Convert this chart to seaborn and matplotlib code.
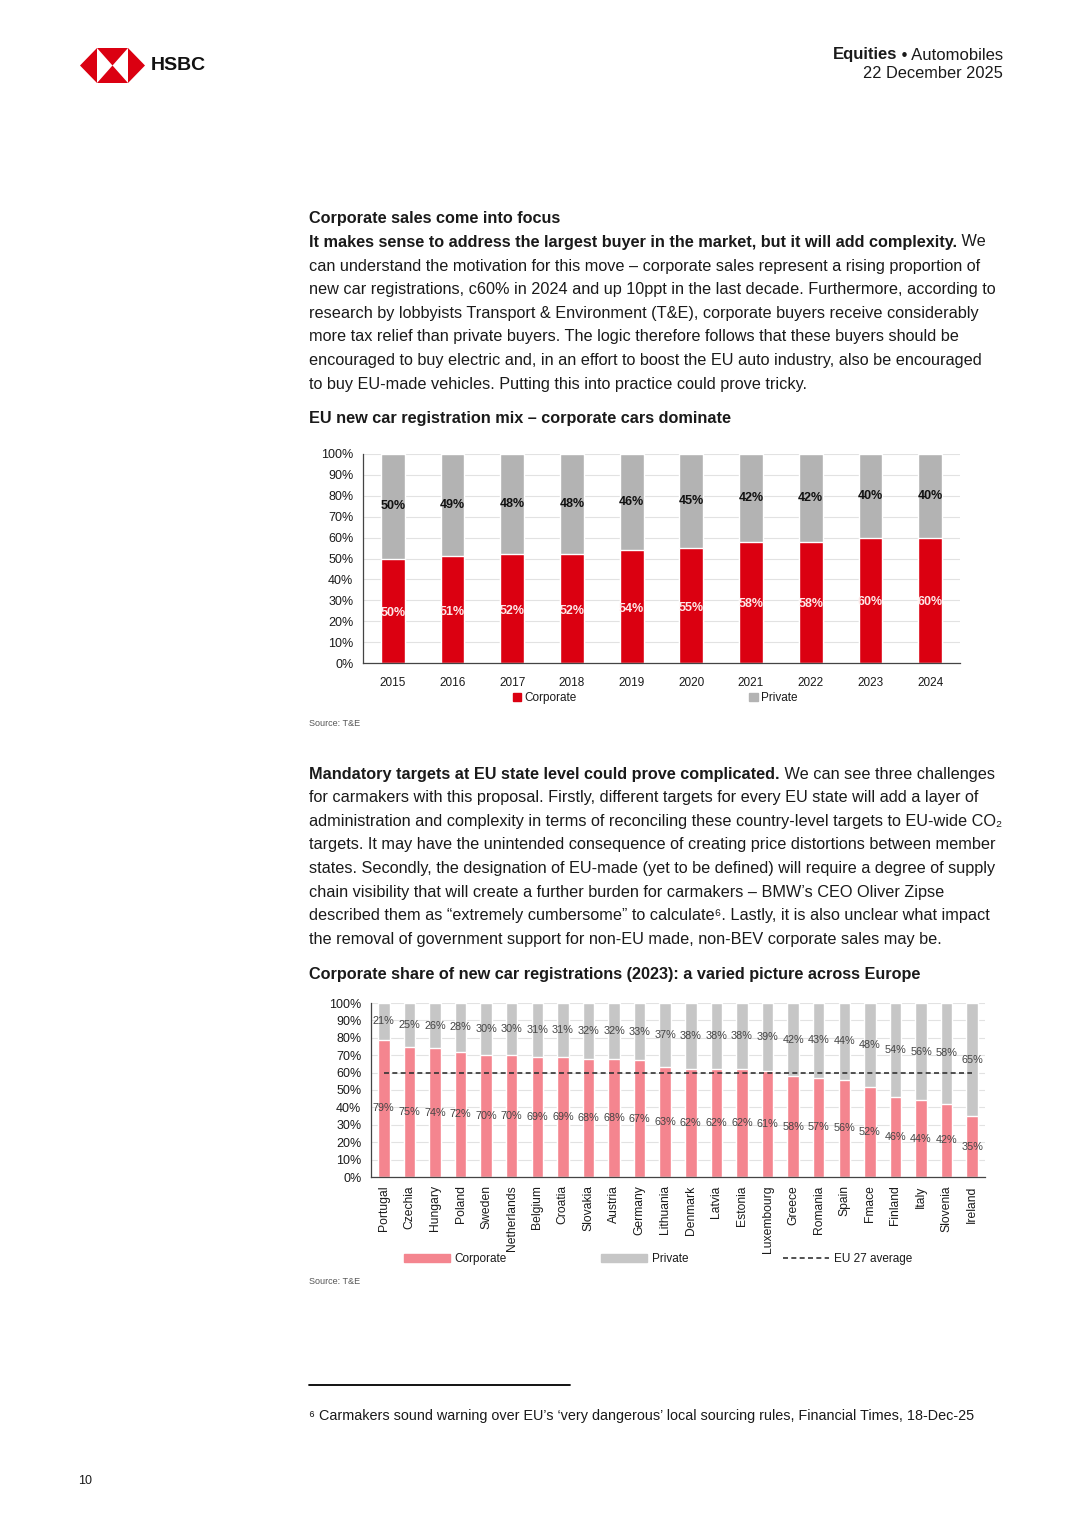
import numpy as np
import pandas as pd
import matplotlib
matplotlib.use('Agg')
import matplotlib.pyplot as plt
from matplotlib.patches import Patch, Polygon
from matplotlib.lines import Line2D
import seaborn as sns

sns.set_style('white')
plt.rcParams['font.family'] = ['Liberation Sans', 'DejaVu Sans']

# chart 1 data: EU new car registration mix
years = ['2015', '2016', '2017', '2018', '2019', '2020', '2021', '2022', '2023', '2024']
corp_mix = [50, 51, 52, 52, 54, 55, 58, 58, 60, 60]
priv_mix = [50, 49, 48, 48, 46, 45, 42, 42, 40, 40]

# chart 2 data: corporate share by country, 2023
countries = ['Portugal', 'Czechia', 'Hungary', 'Poland', 'Sweden', 'Netherlands', 'Belgium',
             'Croatia', 'Slovakia', 'Austria', 'Germany', 'Lithuania', 'Denmark', 'Latvia',
             'Estonia', 'Luxembourg', 'Greece', 'Romania', 'Spain', 'Fmace', 'Finland',
             'Italy', 'Slovenia', 'Ireland']
corp_share = [79, 75, 74, 72, 70, 70, 69, 69, 68, 68, 67, 63, 62, 62, 62, 61, 58, 57, 56, 52,
              46, 44, 42, 35]
priv_share = [21, 25, 26, 28, 30, 30, 31, 31, 32, 32, 33, 37, 38, 38, 38, 39, 42, 43, 44, 48,
              54, 56, 58, 65]
eu_avg = 60

RED = '#DB0011'
GREY1 = '#B3B3B3'
PINK = '#F4858F'
GREY2 = '#C6C6C6'
TXT = '#1a1a1a'

W, H = 1080, 1527
fig = plt.figure(figsize=(W / 100, H / 100), dpi=100)

# page layer in pixel coordinates
bg = fig.add_axes([0, 0, 1, 1])
bg.set_xlim(0, W)
bg.set_ylim(H, 0)
bg.axis('off')
rend = fig.canvas.get_renderer()


def txt(x, y, s, **kw):
    kw.setdefault('color', TXT)
    kw.setdefault('va', 'center')
    return bg.text(x, y, s, **kw)


def width(t):
    return t.get_window_extent(renderer=rend).width


# HSBC logo
for tri in [[(80, 65.5), (97, 48), (97, 83)], [(145, 65.5), (128, 48), (128, 83)],
            [(97, 48), (128, 48), (112.5, 65.5)], [(97, 83), (128, 83), (112.5, 65.5)]]:
    bg.add_patch(Polygon(tri, closed=True, color=RED, lw=0))
txt(151, 66, 'HSBC', fontsize=14, fontweight='bold', color='#111')

t = txt(1003, 55, ' \u2022 Automobiles', fontsize=12, ha='right')
txt(1003 - width(t), 55, 'Equities', fontsize=12, ha='right', fontweight='bold')
txt(1003, 74, '22 December 2025', fontsize=11.8, ha='right')

BODY = 11.7
LX = 309
LS = 23.65

# first block of text
txt(LX, 218, 'Corporate sales come into focus', fontsize=BODY, fontweight='bold')
t = txt(LX, 242, 'It makes sense to address the largest buyer in the market, but it will add complexity.',
        fontsize=BODY, fontweight='bold')
txt(LX + width(t), 242, ' We', fontsize=BODY)
para1 = [
    'can understand the motivation for this move \u2013 corporate sales represent a rising proportion of',
    'new car registrations, c60% in 2024 and up 10ppt in the last decade. Furthermore, according to',
    'research by lobbyists Transport & Environment (T&E), corporate buyers receive considerably',
    'more tax relief than private buyers. The logic therefore follows that these buyers should be',
    'encouraged to buy electric and, in an effort to boost the EU auto industry, also be encouraged',
    'to buy EU-made vehicles. Putting this into practice could prove tricky.',
]
for i, line in enumerate(para1):
    txt(LX, 266 + i * LS, line, fontsize=BODY)

txt(LX, 419, 'EU new car registration mix \u2013 corporate cars dominate', fontsize=BODY, fontweight='bold')

# second block of text
t = txt(LX, 774, 'Mandatory targets at EU state level could prove complicated.', fontsize=BODY,
        fontweight='bold')
txt(LX + width(t), 774, ' We can see three challenges', fontsize=BODY)
para2 = [
    'for carmakers with this proposal. Firstly, different targets for every EU state will add a layer of',
    'administration and complexity in terms of reconciling these country-level targets to EU-wide CO\u2082',
    'targets. It may have the unintended consequence of creating price distortions between member',
    'states. Secondly, the designation of EU-made (yet to be defined) will require a degree of supply',
    'chain visibility that will create a further burden for carmakers \u2013 BMW\u2019s CEO Oliver Zipse',
    'described them as \u201cextremely cumbersome\u201d to calculate\u2076. Lastly, it is also unclear what impact',
    'the removal of government support for non-EU made, non-BEV corporate sales may be.',
]
for i, line in enumerate(para2):
    txt(LX, 797.5 + i * LS, line, fontsize=BODY)

txt(LX, 974, 'Corporate share of new car registrations (2023): a varied picture across Europe',
    fontsize=BODY, fontweight='bold')

txt(LX, 723, 'Source: T&E', fontsize=6.5, color='#555')
txt(LX, 1281, 'Source: T&E', fontsize=6.5, color='#555')

bg.plot([309, 570], [1385, 1385], color='black', lw=1.3)
txt(LX, 1416, '\u2076 Carmakers sound warning over EU\u2019s \u2018very dangerous\u2019 local sourcing rules, '
    'Financial Times, 18-Dec-25', fontsize=10.4)
txt(78, 1481, '10', fontsize=9)


def px_axes(left, right, top, bottom):
    return fig.add_axes([left / W, 1 - bottom / H, (right - left) / W, (bottom - top) / H])


def style_axes(ax, n, labelsize, ylabelsize):
    ax.set_ylim(0, 100)
    ax.set_xlim(-0.5, n - 0.5)
    ax.set_yticks(np.arange(0, 101, 10))
    ax.set_yticklabels([f'{v}%' for v in range(0, 101, 10)])
    ax.set_xlabel('')
    ax.set_ylabel('')
    for s in ['top', 'right']:
        ax.spines[s].set_visible(False)
    for s in ['left', 'bottom']:
        ax.spines[s].set_color('#444')
        ax.spines[s].set_linewidth(0.9)
    ax.yaxis.grid(True, color='#E2E2E2', lw=0.8)
    ax.set_axisbelow(True)
    ax.set_xticks(np.arange(-0.5, n, 1), minor=True)
    ax.tick_params(axis='x', which='major', length=0, pad=6, labelsize=labelsize, colors=TXT)
    ax.tick_params(axis='x', which='minor', length=4, width=0.9, color='#444', direction='out')
    ax.tick_params(axis='y', length=4, width=0.9, color='#444', labelsize=ylabelsize,
                   labelcolor=TXT, pad=3)


# chart 1
df1 = pd.DataFrame({'year': years, 'corp': corp_mix, 'priv': priv_mix})
df1['total'] = df1['corp'] + df1['priv']
ax1 = px_axes(363, 960, 454, 663)
sns.barplot(data=df1, x='year', y='total', color=GREY1, saturation=1, width=0.4, ax=ax1)
sns.barplot(data=df1, x='year', y='corp', color=RED, saturation=1, width=0.4, ax=ax1)
style_axes(ax1, len(years), 8.5, 9)
ax1.tick_params(axis='x', which='major', pad=10)
for i, (c, p) in enumerate(zip(corp_mix, priv_mix)):
    ax1.text(i, c / 2 - 1, f'{c}%', ha='center', va='center', color='#FDE8E8', fontsize=9,
             fontweight='bold')
    ax1.text(i, c + p / 2, f'{p}%', ha='center', va='center', color='#111', fontsize=9,
             fontweight='bold')

fig.legend(handles=[Patch(color=RED, label='Corporate'), Patch(color=GREY1, label='Private')],
           loc='center left', bbox_to_anchor=(513 / W, 1 - 698 / H), ncol=2, frameon=False,
           fontsize=8.5, handlelength=0.7, handleheight=0.7, handletextpad=0.3,
           columnspacing=14.6, borderpad=0, borderaxespad=0, labelcolor=TXT)

# chart 2
df2 = pd.DataFrame({'country': countries, 'corp': corp_share, 'priv': priv_share})
df2['total'] = df2['corp'] + df2['priv']
ax2 = px_axes(371, 985, 1003, 1177)
sns.barplot(data=df2, x='country', y='total', color=GREY2, saturation=1, width=0.45, ax=ax2)
sns.barplot(data=df2, x='country', y='corp', color=PINK, saturation=1, width=0.45, ax=ax2)
n2 = len(countries)
ax2.plot(np.arange(n2), [eu_avg] * n2, color='#333', lw=1.2, ls=(0, (3, 2)), zorder=5)
style_axes(ax2, n2, 8.7, 9)
ax2.tick_params(axis='x', which='major', rotation=90, pad=6)
for i, (c, p) in enumerate(zip(corp_share, priv_share)):
    ax2.text(i, c / 2, f'{c}%', ha='center', va='center', color='#444', fontsize=7.8)
    ax2.text(i, c + p / 2, f'{p}%', ha='center', va='center', color='#444', fontsize=7.8)

fig.legend(handles=[Patch(color=PINK, label='Corporate'), Patch(color=GREY2, label='Private'),
                    Line2D([], [], color='#333', lw=1.2, ls=(0, (3, 2)), label='EU 27 average')],
           loc='center left', bbox_to_anchor=(404 / W, 1 - 1259 / H), ncol=3, frameon=False,
           fontsize=8.5, handlelength=3.9, handleheight=0.6, handletextpad=0.4,
           columnspacing=8.0, borderpad=0, borderaxespad=0, labelcolor=TXT)

fig.savefig('out.png', dpi=100)
